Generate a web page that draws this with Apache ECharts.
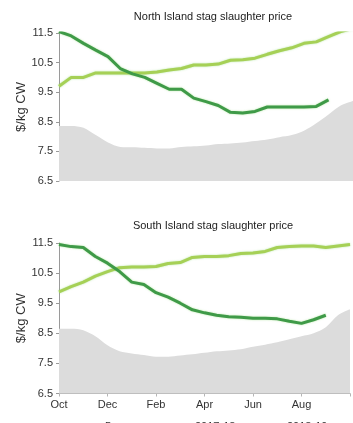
<!DOCTYPE html>
<html>
<head>
<meta charset="utf-8">
<script src="https://cdn.jsdelivr.net/npm/echarts@6/dist/echarts.min.js"></script>
<style>
  html, body { margin: 0; padding: 0; background: #ffffff; overflow: hidden; }
  #chart { width: 353px; height: 423px; }
</style>
</head>
<body>
<div id="chart"></div>
<script>
// Season runs Oct -> Sep; x values are months since 1 October, sampled every half month.
const monthTicks = ['Oct', 'Dec', 'Feb', 'Apr', 'Jun', 'Aug'];
const seriesNames = ['5-yr avg', '2017-18', '2018-19'];
const titles = ['North Island stag slaughter price', 'South Island stag slaughter price'];
const yTitle = '$/kg CW';

// North Island, $/kg CW
const niAvg = [8.36, 8.36, 8.30, 8.05, 7.80, 7.65, 7.64, 7.62, 7.60, 7.60, 7.65, 7.67, 7.70,
               7.75, 7.77, 7.80, 7.85, 7.90, 7.98, 8.05, 8.20, 8.45, 8.75, 9.05, 9.20];
const ni1718 = [9.70, 10.00, 10.00, 10.15, 10.15, 10.15, 10.15, 10.15, 10.18, 10.25, 10.30, 10.42, 10.42,
                10.45, 10.58, 10.60, 10.65, 10.78, 10.90, 11.00, 11.15, 11.20, 11.38, 11.55, 11.65];
const ni1819 = [11.55, 11.40, 11.15, 10.92, 10.70, 10.30, 10.12, 10.00, 9.80, 9.60, 9.60, 9.30, 9.18,
                9.05, 8.82, 8.80, 8.85, 9.00, 9.00, 9.00, 9.00, 9.02, 9.24, null, null];

// South Island, $/kg CW
const siAvg = [8.65, 8.65, 8.60, 8.40, 8.10, 7.90, 7.83, 7.78, 7.72, 7.72, 7.76, 7.80, 7.85,
               7.90, 7.93, 7.97, 8.05, 8.12, 8.20, 8.30, 8.40, 8.50, 8.70, 9.10, 9.30];
const si1718 = [9.88, 10.05, 10.20, 10.40, 10.55, 10.68, 10.70, 10.70, 10.72, 10.82, 10.85, 11.02, 11.05,
                11.05, 11.08, 11.15, 11.17, 11.22, 11.35, 11.38, 11.40, 11.40, 11.35, 11.40, 11.45];
const si1819 = [11.45, 11.38, 11.35, 11.05, 10.83, 10.55, 10.20, 10.12, 9.85, 9.70, 9.50, 9.28, 9.18,
                9.10, 9.05, 9.03, 9.00, 9.00, 8.98, 8.90, 8.83, 8.95, 9.10, null, null];

const STEP = 0.5; // months between samples
const pair = arr => arr.map((v, i) => [i * STEP, v]);

const COLORS = { avg: '#dcdcdc', prev: '#a6d056', curr: '#3f9a48' };
const textColor = '#333';
const FONT = 'Liberation Sans';

function xAxis(gridIndex, showLabels) {
  return {
    type: 'value', gridIndex, min: 0, max: 12, interval: 2,
    axisLine: { show: showLabels, lineStyle: { color: '#b5b5b5', width: 1 } },
    axisTick: { show: showLabels, length: 3, lineStyle: { color: '#b5b5b5' } },
    axisLabel: {
      show: showLabels, color: textColor, fontSize: 11, margin: 6, fontFamily: FONT,
      formatter: v => monthTicks[Math.round(v / 2)] || ''
    },
    splitLine: { show: false }
  };
}

function yAxis(gridIndex) {
  return {
    type: 'value', gridIndex, min: 6.5, max: 11.5, interval: 1,
    name: yTitle, nameLocation: 'middle', nameGap: 31, nameRotate: 90,
    nameMoveOverlap: false,
    nameTextStyle: { color: textColor, fontSize: 13, fontFamily: FONT },
    axisLine: { show: true, lineStyle: { color: '#9a9a9a', width: 1 } },
    axisTick: { show: true, length: 3, lineStyle: { color: '#9a9a9a' } },
    axisLabel: {
      color: textColor, fontSize: 11, margin: 6, fontFamily: FONT,
      formatter: v => v.toFixed(1)
    },
    splitLine: { show: false }
  };
}

function areaSeries(name, data, idx) {
  return {
    name, type: 'line', xAxisIndex: idx, yAxisIndex: idx, data: pair(data),
    symbol: 'none', smooth: 0.3, z: 1,
    lineStyle: { width: 0 },
    itemStyle: { color: COLORS.avg },
    areaStyle: { color: COLORS.avg, origin: 'start', opacity: 1 }
  };
}

function lineSeries(name, data, idx, color) {
  return {
    name, type: 'line', xAxisIndex: idx, yAxisIndex: idx, data: pair(data),
    symbol: 'none', z: 3,
    itemStyle: { color },
    lineStyle: { color, width: 3, shadowColor: 'rgba(120,210,90,0.55)', shadowBlur: 2 }
  };
}

// one legend entry per series, laid out along the bottom edge
function legendItem(name, left) {
  return {
    data: [name], left, bottom: -14, itemWidth: 20, itemHeight: 3, icon: 'rect',
    selectedMode: false,
    textStyle: { color: textColor, fontSize: 11, fontFamily: FONT }
  };
}

const chart = echarts.init(document.getElementById('chart'), null, { renderer: 'canvas' });
chart.setOption({
  animation: false,
  backgroundColor: '#ffffff',
  title: [
    { text: titles[0], left: 208, top: 6, textAlign: 'center',
      textStyle: { fontSize: 11, fontWeight: 'normal', color: '#222', fontFamily: FONT } },
    { text: titles[1], left: 208, top: 215, textAlign: 'center',
      textStyle: { fontSize: 11, fontWeight: 'normal', color: '#222', fontFamily: FONT } }
  ],
  legend: [
    legendItem(seriesNames[0], 75),
    legendItem(seriesNames[1], 165),
    legendItem(seriesNames[2], 257)
  ],
  // the season axis runs past the right edge of the canvas
  grid: [
    { left: 59, top: 33, width: 306, height: 148 },
    { left: 59, top: 243, width: 306, height: 150.5 }
  ],
  xAxis: [xAxis(0, false), xAxis(1, true)],
  yAxis: [yAxis(0), yAxis(1)],
  series: [
    areaSeries(seriesNames[0], niAvg, 0),
    lineSeries(seriesNames[1], ni1718, 0, COLORS.prev),
    lineSeries(seriesNames[2], ni1819, 0, COLORS.curr),
    areaSeries(seriesNames[0], siAvg, 1),
    lineSeries(seriesNames[1], si1718, 1, COLORS.prev),
    lineSeries(seriesNames[2], si1819, 1, COLORS.curr)
  ]
});
</script>
</body>
</html>
